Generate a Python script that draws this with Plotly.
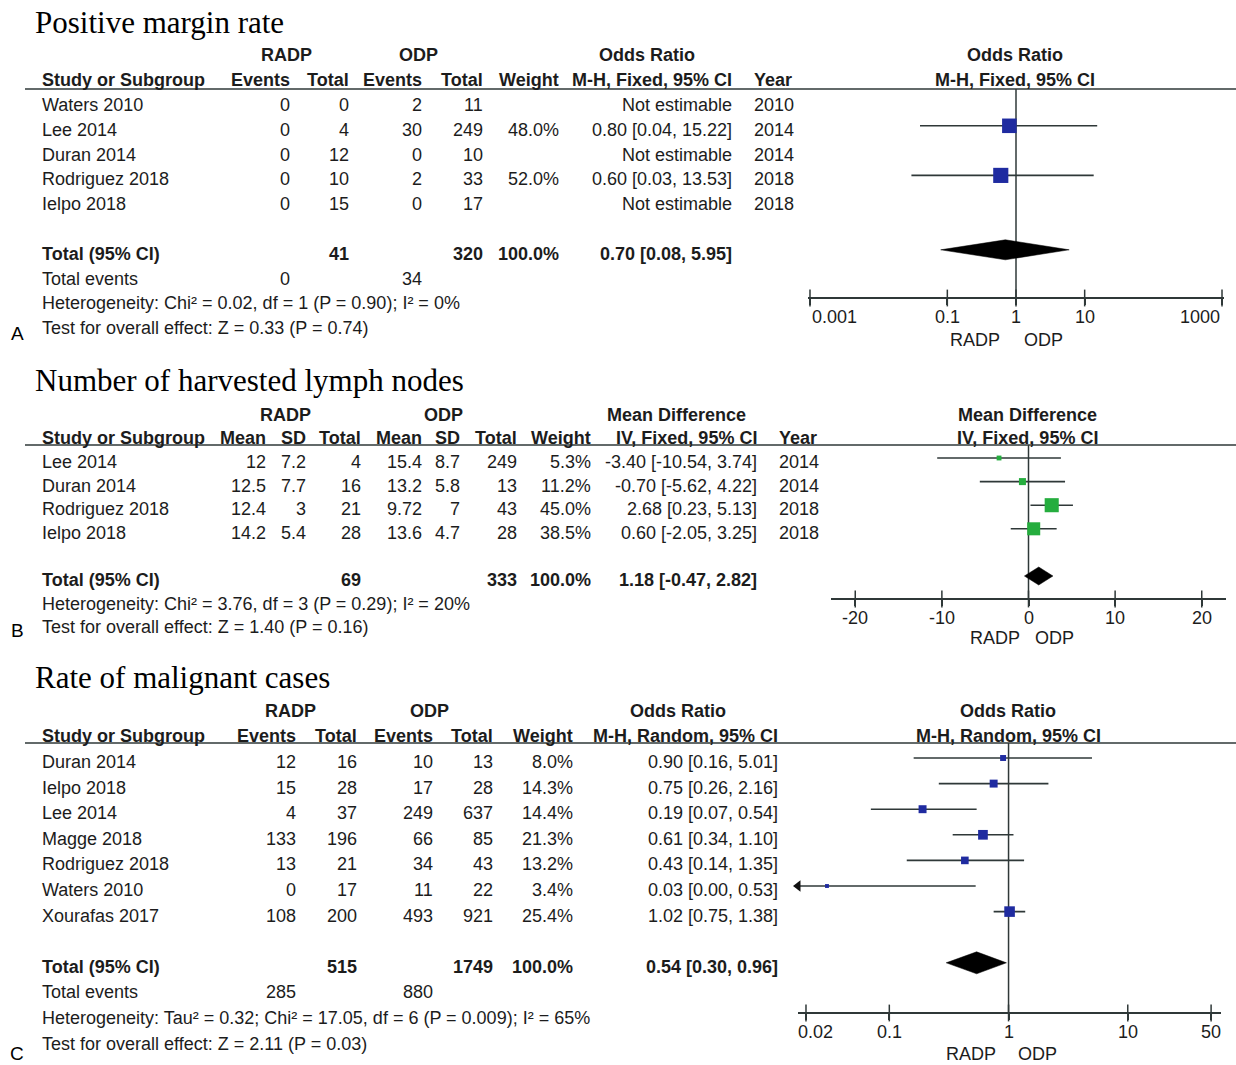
import math
import plotly.graph_objects as go

W, H = 1236, 1065

# ---------------- Panel A: Positive margin rate ----------------
a_title = "Positive margin rate"
a_studies = ["Waters 2010", "Lee 2014", "Duran 2014", "Rodriguez 2018", "Ielpo 2018"]
a_radp_events = [0, 0, 0, 0, 0]
a_radp_total = [0, 4, 12, 10, 15]
a_odp_events = [2, 30, 0, 2, 0]
a_odp_total = [11, 249, 10, 33, 17]
a_weight = [None, 48.0, None, 52.0, None]
a_or = [None, 0.80, None, 0.60, None]
a_lo = [None, 0.04, None, 0.03, None]
a_hi = [None, 15.22, None, 13.53, None]
a_year = [2010, 2014, 2014, 2018, 2018]
a_total = {"radp": 41, "odp": 320, "weight": 100.0, "est": 0.70, "lo": 0.08, "hi": 5.95}
a_events = [0, 34]
a_het = "Heterogeneity: Chi² = 0.02, df = 1 (P = 0.90); I² = 0%"
a_test = "Test for overall effect: Z = 0.33 (P = 0.74)"
a_ticks = [0.001, 0.1, 1, 10, 1000]
a_ticktext = ["0.001", "0.1", "1", "10", "1000"]

# ---------------- Panel B: Number of harvested lymph nodes ----------------
b_title = "Number of harvested lymph nodes"
b_studies = ["Lee 2014", "Duran 2014", "Rodriguez 2018", "Ielpo 2018"]
b_radp_mean = [12, 12.5, 12.4, 14.2]
b_radp_sd = [7.2, 7.7, 3, 5.4]
b_radp_total = [4, 16, 21, 28]
b_odp_mean = [15.4, 13.2, 9.72, 13.6]
b_odp_sd = [8.7, 5.8, 7, 4.7]
b_odp_total = [249, 13, 43, 28]
b_weight = [5.3, 11.2, 45.0, 38.5]
b_md = [-3.40, -0.70, 2.68, 0.60]
b_lo = [-10.54, -5.62, 0.23, -2.05]
b_hi = [3.74, 4.22, 5.13, 3.25]
b_year = [2014, 2014, 2018, 2018]
b_total = {"radp": 69, "odp": 333, "weight": 100.0, "est": 1.18, "lo": -0.47, "hi": 2.82}
b_het = "Heterogeneity: Chi² = 3.76, df = 3 (P = 0.29); I² = 20%"
b_test = "Test for overall effect: Z = 1.40 (P = 0.16)"
b_ticks = [-20, -10, 0, 10, 20]
b_ticktext = ["-20", "-10", "0", "10", "20"]

# ---------------- Panel C: Rate of malignant cases ----------------
c_title = "Rate of malignant cases"
c_studies = ["Duran 2014", "Ielpo 2018", "Lee 2014", "Magge 2018", "Rodriguez 2018",
             "Waters 2010", "Xourafas 2017"]
c_radp_events = [12, 15, 4, 133, 13, 0, 108]
c_radp_total = [16, 28, 37, 196, 21, 17, 200]
c_odp_events = [10, 17, 249, 66, 34, 11, 493]
c_odp_total = [13, 28, 637, 85, 43, 22, 921]
c_weight = [8.0, 14.3, 14.4, 21.3, 13.2, 3.4, 25.4]
c_or = [0.90, 0.75, 0.19, 0.61, 0.43, 0.03, 1.02]
c_lo = [0.16, 0.26, 0.07, 0.34, 0.14, 0.00, 0.75]
c_hi = [5.01, 2.16, 0.54, 1.10, 1.35, 0.53, 1.38]
c_total = {"radp": 515, "odp": 1749, "weight": 100.0, "est": 0.54, "lo": 0.30, "hi": 0.96}
c_events = [285, 880]
c_het = "Heterogeneity: Tau² = 0.32; Chi² = 17.05, df = 6 (P = 0.009); I² = 65%"
c_test = "Test for overall effect: Z = 2.11 (P = 0.03)"
c_ticks = [0.02, 0.1, 1, 10, 50]
c_ticktext = ["0.02", "0.1", "1", "10", "50"]

# ---------------- styling / layout helpers ----------------
FONT = "Liberation Sans, Arial, sans-serif"
SERIF = "Liberation Serif, Times New Roman, serif"
TXT = "#1c1c1c"
LINE = "#2f3838"
BLUE = "#1f2ba0"
GREEN = "#25ad3e"
FS = 18


def px(x):
    return x / W


def py(y):
    return 1 - y / H


annotations = []
shapes = []
fig = go.Figure()


def ann(s, x, y, yref, anchor="right", bold=False, size=FS, shift=-4, family=FONT, color=TXT):
    annotations.append(dict(
        text=f"<b>{s}</b>" if bold else s, x=px(x), xref="paper", y=y, yref=yref,
        xanchor=anchor, yanchor="middle", showarrow=False, yshift=shift,
        font=dict(family=family, size=size, color=color)))


def fmt_ci(e, lo, hi):
    return f"{e:.2f} [{lo:.2f}, {hi:.2f}]"


def panel(idx, cfg):
    sfx = "" if idx == 1 else str(idx)
    yref = "y" + sfx
    xname, yname = "x" + sfx, "y" + sfx
    p0, s = cfg["p0"], cfg["s"]

    def row(pix):
        return (pix - p0) / s

    # y axis for the whole panel (row units)
    fig.layout["yaxis" + sfx] = dict(domain=[py(cfg["bot"]), py(cfg["top"])],
                                     range=[row(cfg["bot"]), row(cfg["top"])],
                                     visible=False, anchor="free", position=0, fixedrange=True)
    # x axis for the forest plot
    xa = dict(domain=[px(cfg["xl"]), px(cfg["xr"])], range=cfg["range"], type=cfg["type"],
              anchor="free", position=py(cfg["axis_px"]), showgrid=False, zeroline=False,
              showline=True, linecolor=LINE, linewidth=1.5, ticks="outside", ticklen=6,
              tickwidth=1.5, tickcolor=LINE, tickmode="array", tickvals=cfg["ticks"],
              showticklabels=False, fixedrange=True, automargin=False)
    fig.layout["xaxis" + sfx] = xa

    # tick labels (edge labels kept inside the axis like the original)
    for k, (tv, tt) in enumerate(zip(cfg["ticks"], cfg["ticktext"])):
        xv = math.log10(tv) if cfg["type"] == "log" else tv
        annotations.append(dict(text=tt, x=xv, xref=xname, y=py(cfg["axis_px"] + 19),
                                yref="paper", xanchor=cfg["tick_anchor"][k], yanchor="middle",
                                xshift=cfg["tick_shift"][k], showarrow=False,
                                font=dict(family=FONT, size=FS, color=TXT)))

    # title and panel letter
    annotations.append(dict(text=cfg["title"], x=px(33), xref="paper", y=py(cfg["title_px"]),
                            yref="paper", xanchor="left", yanchor="middle", showarrow=False,
                            font=dict(family=SERIF, size=31, color="#000")))
    annotations.append(dict(text=cfg["letter"], x=px(17), xref="paper", y=py(cfg["letter_px"]),
                            yref="paper", xanchor="center", yanchor="middle", showarrow=False,
                            font=dict(family=FONT, size=19, color="#000")))

    # header rows
    for label, x, anchor in cfg["head1"]:
        ann(label, x, -2, yref, anchor=anchor, bold=True)
    for label, x, anchor in cfg["head2"]:
        ann(label, x, -1, yref, anchor=anchor, bold=True)
    hrow = row(cfg["header_px"])
    shapes.append(dict(type="line", xref="paper", x0=px(25), x1=1, yref=yref, y0=hrow, y1=hrow,
                       line=dict(color=LINE, width=1.5)))

    # study rows
    n = len(cfg["studies"])
    for i, name in enumerate(cfg["studies"]):
        ann(name, 40, i, yref, anchor="left")
        for vals, x in cfg["cols"]:
            ann(vals[i], x, i, yref)
        if cfg.get("years") is not None:
            ann(str(cfg["years"][i]), cfg["year_x"], i, yref, anchor="left")

    # total rows
    tr = cfg["total_row"]
    t = cfg["total"]
    ann("Total (95% CI)", 40, tr, yref, anchor="left", bold=True)
    ann(str(t["radp"]), cfg["tot_x"][0], tr, yref, bold=True)
    ann(str(t["odp"]), cfg["tot_x"][1], tr, yref, bold=True)
    ann(f"{t['weight']:.1f}%", cfg["tot_x"][2], tr, yref, bold=True)
    ann(fmt_ci(t["est"], t["lo"], t["hi"]), cfg["tot_x"][3], tr, yref, bold=True)
    r = tr + 1
    if cfg.get("events") is not None:
        ann("Total events", 40, r, yref, anchor="left")
        ann(str(cfg["events"][0]), cfg["ev_x"][0], r, yref)
        ann(str(cfg["events"][1]), cfg["ev_x"][1], r, yref)
        r += 1
    ann(cfg["het"], 40, r, yref, anchor="left")
    ann(cfg["test"], 40, r + 1, yref, anchor="left")

    # axis side labels
    for lab, key in (("RADP", "radp_x"), ("ODP", "odp_x")):
        annotations.append(dict(text=lab, x=px(cfg[key]), xref="paper", y=py(cfg["lab_px"]),
                                yref="paper", xanchor="center", yanchor="middle",
                                showarrow=False, font=dict(family=FONT, size=FS, color=TXT)))

    arow = row(cfg["axis_px"])
    # null line
    fig.add_trace(go.Scatter(x=[cfg["null"], cfg["null"]], y=[hrow, arow], mode="lines",
                             line=dict(color=LINE, width=1.5), xaxis=xname, yaxis=yname,
                             hoverinfo="skip", cliponaxis=False))
    # upper half of the cross-shaped ticks
    fig.add_trace(go.Scatter(x=cfg["ticks"], y=[arow] * len(cfg["ticks"]), mode="markers",
                             marker=dict(symbol="line-ns", size=12,
                                         line=dict(width=1.5, color=LINE)),
                             xaxis=xname, yaxis=yname, hoverinfo="skip", cliponaxis=False))

    # confidence intervals
    lomin = 10 ** cfg["range"][0] if cfg["type"] == "log" else cfg["range"][0]
    cx, cy, arrows_x, arrows_y = [], [], [], []
    for i in range(n):
        e = cfg["est"][i]
        if e is None:
            continue
        lo = cfg["lo"][i]
        if cfg["type"] == "log" and lo <= lomin:
            arrows_x.append(lomin)
            arrows_y.append(i)
            lo = lomin
        cx += [lo, cfg["hi"][i], None]
        cy += [i, i, None]
    fig.add_trace(go.Scatter(x=cx, y=cy, mode="lines", line=dict(color=LINE, width=1.6),
                             xaxis=xname, yaxis=yname, hoverinfo="skip", cliponaxis=False))
    if arrows_x:
        fig.add_trace(go.Scatter(x=arrows_x, y=arrows_y, mode="markers",
                                 marker=dict(symbol="triangle-left", size=10, color="#111"),
                                 xaxis=xname, yaxis=yname, hoverinfo="skip", cliponaxis=False))
    # squares
    sx, sy, ss = [], [], []
    for i in range(n):
        if cfg["est"][i] is None:
            continue
        sx.append(cfg["est"][i])
        sy.append(i)
        ss.append(2.1 * math.sqrt(cfg["weight"][i]))
    fig.add_trace(go.Scatter(x=sx, y=sy, mode="markers",
                             marker=dict(symbol="square", size=ss, color=cfg["color"],
                                         opacity=1, line=dict(width=0)),
                             xaxis=xname, yaxis=yname, hoverinfo="skip", cliponaxis=False))
    # diamond
    h = cfg["dh"] / s
    fig.add_trace(go.Scatter(x=[t["lo"], t["est"], t["hi"], t["est"], t["lo"]],
                             y=[tr, tr - h, tr, tr + h, tr], mode="lines", fill="toself",
                             fillcolor="#000", line=dict(color="#000", width=0.5),
                             xaxis=xname, yaxis=yname, hoverinfo="skip", cliponaxis=False))


def wfmt(ws):
    return [f"{w:.1f}%" if w is not None else "" for w in ws]


def cifmt(es, los, his):
    return [fmt_ci(e, l, h) if e is not None else "Not estimable" for e, l, h in zip(es, los, his)]


def sfmt(vals):
    return [f"{v:g}" for v in vals]


cfgA = dict(
    title=a_title, letter="A", title_px=22, letter_px=333, top=0, bot=356, p0=101, s=24.8,
    header_px=89, axis_px=298, xl=808, xr=1224, range=[-3.029, 3.029], type="log",
    ticks=a_ticks, ticktext=a_ticktext,
    tick_anchor=["left", "center", "center", "center", "right"], tick_shift=[0, 0, 0, 0, 0],
    null=1, lab_px=340, radp_x=975, odp_x=1043,
    head1=[("RADP", 286, "center"), ("ODP", 418, "center"), ("Odds Ratio", 647, "center"),
           ("Odds Ratio", 1015, "center")],
    head2=[("Study or Subgroup", 40, "left"), ("Events", 292, "right"), ("Total", 351, "right"),
           ("Events", 424, "right"), ("Total", 485, "right"), ("Weight", 561, "right"),
           ("M-H, Fixed, 95% CI", 734, "right"), ("Year", 752, "left"),
           ("M-H, Fixed, 95% CI", 1015, "center")],
    studies=a_studies,
    cols=[(sfmt(a_radp_events), 292), (sfmt(a_radp_total), 351), (sfmt(a_odp_events), 424),
          (sfmt(a_odp_total), 485), (wfmt(a_weight), 561), (cifmt(a_or, a_lo, a_hi), 734)],
    years=a_year, year_x=752, total_row=6, total=a_total, tot_x=[351, 485, 561, 734],
    events=a_events, ev_x=[292, 424], het=a_het, test=a_test,
    est=a_or, lo=a_lo, hi=a_hi, weight=a_weight, color=BLUE, dh=10)

cfgB = dict(
    title=b_title, letter="B", title_px=381, letter_px=630, top=356, bot=652, p0=458, s=23.6,
    header_px=445, axis_px=599, xl=831, xr=1226, range=[-22.8, 22.8], type="linear",
    ticks=b_ticks, ticktext=b_ticktext,
    tick_anchor=["center"] * 5, tick_shift=[0, 0, 0, 0, 0],
    null=0, lab_px=638, radp_x=995, odp_x=1054,
    head1=[("RADP", 285, "center"), ("ODP", 443, "center"), ("Mean Difference", 676, "center"),
           ("Mean Difference", 1027, "center")],
    head2=[("Study or Subgroup", 40, "left"), ("Mean", 268, "right"), ("SD", 308, "right"),
           ("Total", 363, "right"), ("Mean", 424, "right"), ("SD", 462, "right"),
           ("Total", 519, "right"), ("Weight", 593, "right"),
           ("IV, Fixed, 95% CI", 759, "right"), ("Year", 777, "left"),
           ("IV, Fixed, 95% CI", 1027, "center")],
    studies=b_studies,
    cols=[(sfmt(b_radp_mean), 268), (sfmt(b_radp_sd), 308), (sfmt(b_radp_total), 363),
          (sfmt(b_odp_mean), 424), (sfmt(b_odp_sd), 462), (sfmt(b_odp_total), 519),
          (wfmt(b_weight), 593), (cifmt(b_md, b_lo, b_hi), 759)],
    years=b_year, year_x=777, total_row=5, total=b_total, tot_x=[363, 519, 593, 759],
    events=None, het=b_het, test=b_test,
    est=b_md, lo=b_lo, hi=b_hi, weight=b_weight, color=GREEN, dh=9)

cfgC = dict(
    title=c_title, letter="C", title_px=677, letter_px=1053, top=652, bot=1065, p0=758, s=25.6,
    header_px=743, axis_px=1013, xl=798, xr=1221, range=[-1.766, 1.782], type="log",
    ticks=c_ticks, ticktext=c_ticktext,
    tick_anchor=["center"] * 5, tick_shift=[10, 0, 0, 0, 0],
    null=1, lab_px=1054, radp_x=971, odp_x=1037,
    head1=[("RADP", 290, "center"), ("ODP", 429, "center"), ("Odds Ratio", 678, "center"),
           ("Odds Ratio", 1008, "center")],
    head2=[("Study or Subgroup", 40, "left"), ("Events", 298, "right"), ("Total", 359, "right"),
           ("Events", 435, "right"), ("Total", 495, "right"), ("Weight", 575, "right"),
           ("M-H, Random, 95% CI", 780, "right"), ("M-H, Random, 95% CI", 1008, "center")],
    studies=c_studies,
    cols=[(sfmt(c_radp_events), 298), (sfmt(c_radp_total), 359), (sfmt(c_odp_events), 435),
          (sfmt(c_odp_total), 495), (wfmt(c_weight), 575), (cifmt(c_or, c_lo, c_hi), 780)],
    years=None, total_row=8, total=c_total, tot_x=[359, 495, 575, 780],
    events=c_events, ev_x=[298, 435], het=c_het, test=c_test,
    est=c_or, lo=c_lo, hi=c_hi, weight=c_weight, color=BLUE, dh=11)

panel(1, cfgA)
panel(2, cfgB)
panel(3, cfgC)

fig.update_layout(
    width=W, height=H, margin=dict(l=0, r=0, t=0, b=0, pad=0, autoexpand=False),
    paper_bgcolor="white", plot_bgcolor="rgba(0,0,0,0)", showlegend=False,
    annotations=annotations, shapes=shapes, hovermode=False,
)

fig.write_html("out.html")
